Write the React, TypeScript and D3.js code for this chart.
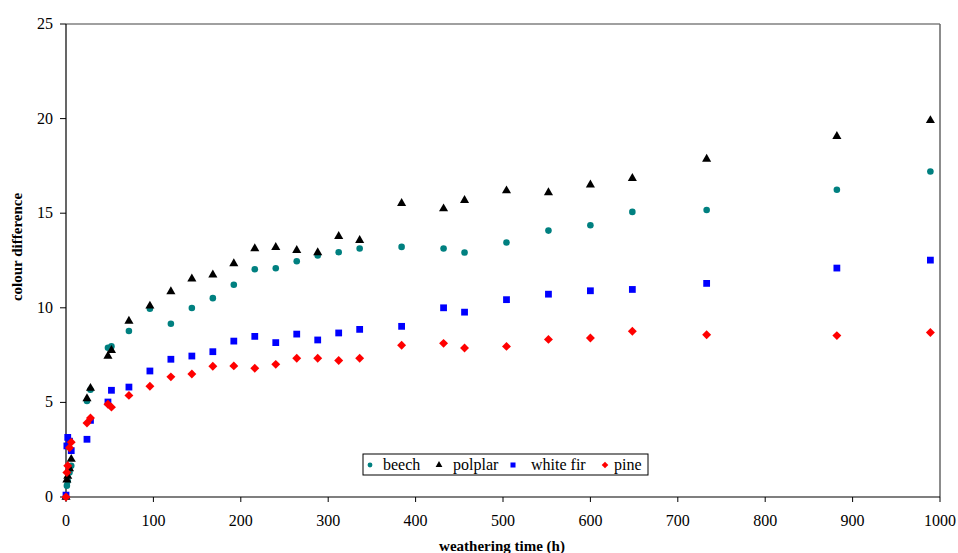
import React from "react";
import * as d3 from "d3";

const times = [0, 1, 2, 4, 6, 24, 28, 48, 52, 72, 96, 120, 144, 168, 192, 216, 240, 264, 288, 312, 336, 384, 432, 456, 504, 552, 600, 648, 733, 882, 989];
const beech = [0, 0.6, 0.85, 1.3, 1.65, 5.07, 5.67, 7.89, 7.96, 8.77, 9.95, 9.16, 9.99, 10.51, 11.22, 12.04, 12.09, 12.46, 12.76, 12.94, 13.13, 13.22, 13.13, 12.92, 13.45, 14.08, 14.36, 15.07, 15.17, 16.24, 17.2];
const polplar = [0, 0.9, 1.1, 1.5, 2.0, 5.2, 5.75, 7.45, 7.75, 9.3, 10.1, 10.86, 11.53, 11.74, 12.34, 13.13, 13.2, 13.04, 12.92, 13.78, 13.57, 15.52, 15.24, 15.68, 16.19, 16.09, 16.5, 16.84, 17.86, 19.06, 19.9];
const whiteFir = [0.1, 2.7, 3.15, 2.95, 2.45, 3.05, 4.05, 5.02, 5.64, 5.81, 6.66, 7.28, 7.45, 7.68, 8.24, 8.49, 8.16, 8.61, 8.3, 8.67, 8.86, 9.02, 10.0, 9.77, 10.43, 10.72, 10.9, 10.97, 11.29, 12.1, 12.52];
const pine = [0, 1.3, 1.65, 2.6, 2.9, 3.91, 4.18, 4.9, 4.75, 5.37, 5.85, 6.35, 6.5, 6.91, 6.93, 6.8, 7.01, 7.33, 7.33, 7.21, 7.33, 8.02, 8.12, 7.88, 7.96, 8.33, 8.4, 8.76, 8.58, 8.53, 8.69];

const seriesNames = ["beech", "polplar", "white fir", "pine"];
const xTicks = [0, 100, 200, 300, 400, 500, 600, 700, 800, 900, 1000];
const yTicks = [0, 5, 10, 15, 20, 25];

const W = 958;
const H = 553;
const left = 66, right = 940, top = 24, bottom = 497;

const series = [
  { name: seriesNames[0], values: beech, color: "#008080", shape: "circle" },
  { name: seriesNames[1], values: polplar, color: "#000000", shape: "triangle" },
  { name: seriesNames[2], values: whiteFir, color: "#0000FF", shape: "square" },
  { name: seriesNames[3], values: pine, color: "#FF0000", shape: "diamond" },
];

function markerPath(shape: string, scale = 1): { d: string; rot: number } {
  if (shape === "circle") return { d: d3.symbol(d3.symbolCircle, 34 * scale)()!, rot: 0 };
  if (shape === "triangle") return { d: d3.symbol(d3.symbolTriangle, 36 * scale)()!, rot: 0 };
  if (shape === "square") return { d: d3.symbol(d3.symbolSquare, 46 * scale)()!, rot: 0 };
  return { d: d3.symbol(d3.symbolSquare, 40 * scale)()!, rot: 45 };
}

const serif = { fontFamily: "Liberation Serif, DejaVu Serif, serif" };

export default function App() {
  const x = d3.scaleLinear().domain([0, 1000]).range([left, right]);
  const y = d3.scaleLinear().domain([0, 25]).range([bottom, top]);

  const legendItems = [
    { mx: 370, tx: 383 },
    { mx: 439, tx: 453 },
    { mx: 513, tx: 531 },
    { mx: 605, tx: 614 },
  ];

  return (
    <svg width={W} height={H} style={{ position: "absolute", left: 0, top: 0, background: "#fff" }}>
      <rect x={0} y={0} width={W} height={H} fill="#fff" />
      <line x1={left} x2={right} y1={top} y2={top} stroke="#808080" strokeWidth={1.5} />
      <line x1={right} x2={right} y1={top} y2={bottom} stroke="#666" strokeWidth={1.5} />
      <line x1={left} x2={left} y1={top} y2={bottom} stroke="#000" strokeWidth={1.2} />
      <line x1={left} x2={right} y1={bottom} y2={bottom} stroke="#000" strokeWidth={1.2} />

      {yTicks.map((t) => (
        <g key={"y" + t}>
          <line x1={left - 6} x2={left} y1={y(t)} y2={y(t)} stroke="#000" strokeWidth={1} />
          <text x={left - 13} y={y(t) + 5} textAnchor="end" fontSize={16} fill="#000" style={serif}>{t}</text>
        </g>
      ))}
      {xTicks.map((t) => (
        <g key={"x" + t}>
          <line x1={x(t)} x2={x(t)} y1={bottom} y2={bottom + 5} stroke="#000" strokeWidth={1} />
          <text x={x(t)} y={bottom + 29} textAnchor="middle" fontSize={16} fill="#000" style={serif}>{t}</text>
        </g>
      ))}

      <text x={502} y={551} textAnchor="middle" fontSize={15} fontWeight="bold" fill="#000" style={serif}>weathering time (h)</text>
      <text transform={`translate(22,247) rotate(-90)`} textAnchor="middle" fontSize={15} fontWeight="bold" fill="#000" style={serif}>colour difference</text>

      {series.map((s) => {
        const m = markerPath(s.shape);
        return (
          <g key={s.name}>
            {s.values.map((v, i) => (
              <path key={i} d={m.d} fill={s.color} transform={`translate(${x(times[i])},${y(v)}) rotate(${m.rot})`} />
            ))}
          </g>
        );
      })}

      <rect x={363} y={454} width={285} height={21} fill="#fff" stroke="#000" strokeWidth={1} />
      {series.map((s, i) => {
        const m = markerPath(s.shape, 0.55);
        return (
          <g key={"lg" + s.name}>
            <path d={m.d} fill={s.color} transform={`translate(${legendItems[i].mx},${465}) rotate(${m.rot})`} />
            <text x={legendItems[i].tx} y={470} fontSize={16} fill="#000" style={serif}>{s.name}</text>
          </g>
        );
      })}
    </svg>
  );
}
